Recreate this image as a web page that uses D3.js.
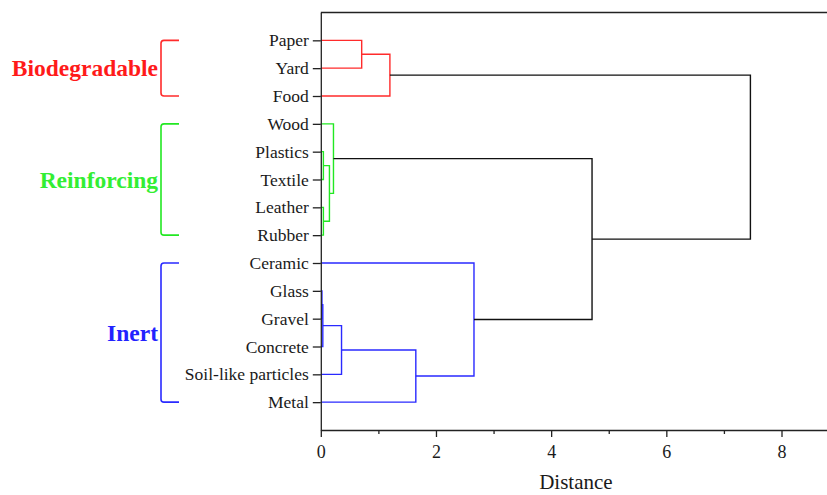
<!DOCTYPE html>
<html>
<head>
<meta charset="utf-8">
<script src="https://cdn.jsdelivr.net/npm/d3@7"></script>
<style>
  html, body { margin: 0; padding: 0; background: #fff; }
  svg { display: block; font-family: "Liberation Serif", "Times New Roman", serif; }
</style>
</head>
<body>
<svg id="chart" width="827" height="495"></svg>
<script>
// ---- data ----
const leaves = ["Paper", "Yard", "Food", "Wood", "Plastics", "Textile", "Leather", "Rubber",
                "Ceramic", "Glass", "Gravel", "Concrete", "Soil-like particles", "Metal"];
// group of each leaf (index into groupNames)
const leafGroup = [0, 0, 0, 1, 1, 1, 1, 1, 2, 2, 2, 2, 2, 2];
const groupNames = ["Biodegradable", "Reinforcing", "Inert"];
// linkage: [childA, childB, distance]; new nodes numbered from leaves.length upward
const mergeA = [9, 4, 6, 14, 15, 3, 17, 0, 21, 20, 8, 19, 22];
const mergeB = [10, 5, 7, 11, 16, 18, 12, 1, 2, 13, 23, 24, 25];
const mergeDist = [0.02, 0.045, 0.045, 0.035, 0.15, 0.22, 0.36, 0.71, 1.20, 1.65, 2.66, 4.71, 7.46];
const majorTicks = [0, 2, 4, 6, 8];
const minorTicks = [1, 3, 5, 7];

// ---- styles ----
const groupColors = ["#ff2b2b", "#22e822", "#2a2aff"];
const labelColors = ["#ff1a1a", "#33ee33", "#2222ff"];

const svg = d3.select("#chart");
const x = d3.scaleLinear().domain([0, 8.79]).range([320.8, 827]);
const y = d3.scaleLinear().domain([0, 15]).range([12.5, 430]);

// node info
const n = leaves.length;
const nodeY = [], nodeX = [], nodeGroup = [];
leaves.forEach((d, i) => { nodeY[i] = i + 1; nodeX[i] = 0; nodeGroup[i] = leafGroup[i]; });
mergeA.forEach((a, k) => {
  const b = mergeB[k], id = n + k;
  nodeY[id] = (nodeY[a] + nodeY[b]) / 2;
  nodeX[id] = mergeDist[k];
  nodeGroup[id] = (nodeGroup[a] === nodeGroup[b]) ? nodeGroup[a] : -1;
});

// links
const links = svg.append("g").attr("fill", "none").attr("stroke-width", 1.4);
mergeA.forEach((a, k) => {
  const b = mergeB[k], id = n + k;
  const p = d3.path();
  p.moveTo(x(nodeX[a]), y(nodeY[a]));
  p.lineTo(x(nodeX[id]), y(nodeY[a]));
  p.lineTo(x(nodeX[id]), y(nodeY[b]));
  p.lineTo(x(nodeX[b]), y(nodeY[b]));
  links.append("path")
    .attr("d", p.toString())
    .attr("stroke", nodeGroup[id] >= 0 ? groupColors[nodeGroup[id]] : "#111");
});

// axes
const axisColor = "#222";
const gx = svg.append("g").attr("transform", `translate(0,${y(15)})`)
  .call(d3.axisBottom(x).tickValues(majorTicks).tickSize(7).tickSizeOuter(0).tickPadding(8).tickFormat(d3.format("d")));
const gxm = svg.append("g").attr("transform", `translate(0,${y(15)})`)
  .call(d3.axisBottom(x).tickValues(minorTicks).tickSize(4).tickSizeOuter(0).tickFormat(""));
gxm.select(".domain").remove();
const gy = svg.append("g").attr("transform", `translate(${x(0)},0)`)
  .call(d3.axisLeft(y).tickValues(leaves.map((d, i) => i + 1)).tickSize(8).tickSizeOuter(0).tickPadding(4)
    .tickFormat(d => leaves[d - 1]));
[gx, gxm, gy].forEach(g => {
  g.selectAll(".domain, line").attr("stroke", axisColor).attr("stroke-width", 1.3);
  g.selectAll("text").attr("fill", "#1a1a1a").style("font-family", "Liberation Serif, Times New Roman, serif");
});
gx.selectAll("text").style("font-size", "18px");
gy.selectAll("text").style("font-size", "17.5px");

// top frame line
svg.append("line")
  .attr("x1", x(0)).attr("x2", x.range()[1])
  .attr("y1", y(0)).attr("y2", y(0))
  .attr("stroke", axisColor).attr("stroke-width", 1.3);

// axis title
svg.append("text")
  .attr("x", (x(0) + 831) / 2).attr("y", 489)
  .attr("text-anchor", "middle")
  .attr("fill", "#1a1a1a")
  .style("font-size", "21px")
  .text("Distance");

// group brackets and labels
const bx = 161, bw = 18, r = 3;
groupNames.forEach((name, gi) => {
  const idx = leafGroup.map((g, i) => g === gi ? i : -1).filter(i => i >= 0);
  const top = y(d3.min(idx) + 1), bot = y(d3.max(idx) + 1);
  const p = d3.path();
  p.moveTo(bx + bw, top);
  p.lineTo(bx + r, top);
  p.quadraticCurveTo(bx, top, bx, top + r);
  p.lineTo(bx, bot - r);
  p.quadraticCurveTo(bx, bot, bx + r, bot);
  p.lineTo(bx + bw, bot);
  svg.append("path").attr("d", p.toString())
    .attr("fill", "none").attr("stroke", groupColors[gi]).attr("stroke-width", 1.6);
  svg.append("text")
    .attr("x", bx - 3).attr("y", (top + bot) / 2 + 8)
    .attr("text-anchor", "end")
    .attr("fill", labelColors[gi])
    .style("font-size", "23.5px").style("font-weight", "bold")
    .text(name);
});
</script>
</body>
</html>
